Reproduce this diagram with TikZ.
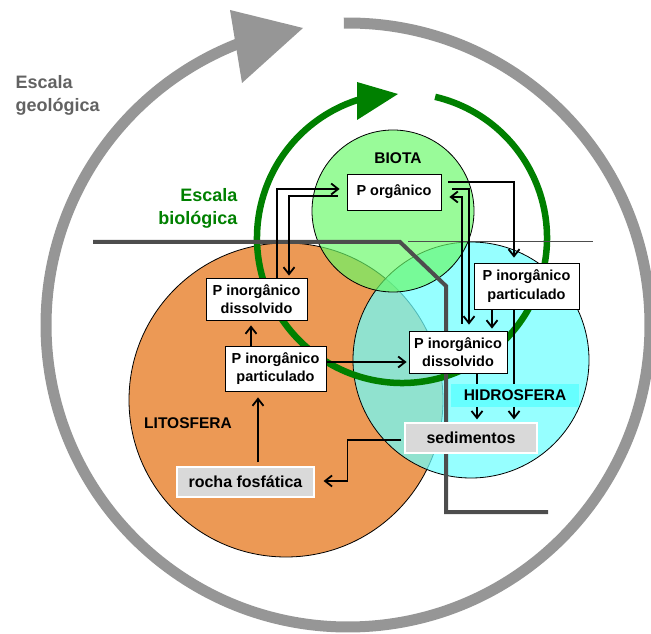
\documentclass[tikz,border=0pt]{standalone}
\usepackage{fontspec}
\setmainfont{Liberation Sans}
\usepackage{xcolor}
\usetikzlibrary{arrows.meta,calc,positioning}
\definecolor{litocol}{RGB}{236,153,85}
\definecolor{hidrocol}{RGB}{109,255,255}
\definecolor{biocol}{RGB}{104,249,104}
\definecolor{escgreen}{RGB}{0,128,0}
\definecolor{escgrey}{RGB}{150,150,150}
\definecolor{txtgrey}{RGB}{98,98,98}
\definecolor{linegrey}{RGB}{77,77,77}
\definecolor{sedgrey}{RGB}{217,217,217}
\definecolor{hidrolbl}{RGB}{102,255,255}

\begin{document}
\begin{tikzpicture}[x=1pt,y=1pt,
    box/.style={draw=black, line width=0.8pt, fill=white, inner sep=0pt, align=center, font=\fontsize{14.5}{18.5}\selectfont\bfseries},
    greybox/.style={draw=white, line width=1.2pt, fill=sedgrey, inner sep=0pt, font=\fontsize{16}{19}\selectfont\bfseries},
    sphere/.style={font=\fontsize{15.5}{18}\selectfont\bfseries},
    flow/.style={line width=1.8pt, -{Straight Barb[length=7pt,width=11pt]}}]
    \useasboundingbox (0,0) rectangle (651,633);

    \draw[escgrey, line width=11pt] (348,308) ++(90.8:302) arc[start angle=90.8, end angle=-249, radius=302];
    \fill[escgrey] (303,605) -- (230,623) -- (242,550) -- cycle;

    \draw[fill=litocol, line width=0.8pt] (286,233) circle (157);
    \draw[fill=hidrocol, fill opacity=0.72, line width=0.8pt] (471,273) circle (118);
    \draw[fill=biocol, fill opacity=0.68, line width=0.8pt] (393,422) circle (81);

    \draw[escgreen, line width=6.5pt] (402,395) ++(76.8:145) arc[start angle=76.8, end angle=-253, radius=145];
    \fill[escgreen] (398,539) -- (357,551) -- (357,513) -- cycle;

    \draw[linegrey, line width=4pt] (93,391) -- (400,391) -- (446,347) -- (446,121) -- (548,121);
    \draw[linegrey, line width=1pt] (408,391) -- (593,391);

    \node[anchor=west, align=left, text=txtgrey, font=\fontsize{18}{23}\selectfont\bfseries] (geo) at (12,538) {Escala\\geológica};
    \node[anchor=east, align=right, text=escgreen, font=\fontsize{18}{23}\selectfont\bfseries] (bio) at (241,425) {Escala\\biológica};

    \node[sphere] (lito) at (188,210) {LITOSFERA};
    \node[sphere] (biota) at (398,475) {BIOTA};

    \node[box, minimum width=94, minimum height=36] (porg) at (394,441) {P orgânico};
    \node[box, minimum width=101, minimum height=42] (dissL) at (256.5,334) {P inorgânico\\dissolvido};
    \node[box, minimum width=101, minimum height=45] (partL) at (275.5,264.5) {P inorgânico\\particulado};
    \node[box, minimum width=105, minimum height=46] (partR) at (526.5,347) {P inorgânico\\particulado};
    \node[box, minimum width=98, minimum height=42] (dissR) at (458,281) {P inorgânico\\dissolvido};
    \node[greybox, minimum width=132, minimum height=30] (sed) at (471,195) {sedimentos};
    \node[greybox, minimum width=137, minimum height=30] (rocha) at (245.5,151) {rocha fosfática};

    \draw[flow] ([xshift=20.5pt]dissL.north) |- ([xshift=-7pt,yshift=3pt]porg.west);
    \draw[flow] ([xshift=-9pt,yshift=-4pt]porg.west) -| ([xshift=32.5pt,yshift=2pt]dissL.north);
    \draw[flow] ([xshift=7pt,yshift=10pt]porg.east) -| ([xshift=-12.5pt,yshift=5pt]partR.north);
    \draw[flow] ([xshift=11pt,yshift=3pt]porg.east) -| ([xshift=11pt,yshift=6pt]dissR.north);
    \draw[flow] ([xshift=4pt,yshift=7pt]dissR.north) |- ([xshift=8pt,yshift=-5pt]porg.east);
    \draw[flow] ([xshift=-34.5pt]partR.south) -- ([xshift=34pt,yshift=2pt]dissR.north);
    \draw[flow] ([xshift=-12.5pt]partR.south) -- ([xshift=43pt,yshift=3pt]sed.north);
    \draw[flow] ([xshift=19pt]dissR.south) -- ([xshift=6pt,yshift=3pt]sed.north);
    \draw[flow] ([xshift=-24.5pt]partL.north) -- ([xshift=-5.5pt,yshift=-5pt]dissL.south);
    \draw[flow] ([yshift=6.5pt]partL.east) -- ([xshift=-2pt,yshift=-10pt]dissR.west);
    \draw[flow] ([xshift=12.5pt,yshift=4pt]rocha.north) -- ([xshift=-17.5pt,yshift=-6pt]partL.south);
    \draw[flow] ([xshift=-3pt,yshift=-2pt]sed.west) -- ++(-54,0) |- ([xshift=9pt,yshift=1pt]rocha.east);

    \node[sphere, fill=hidrolbl, minimum width=128, minimum height=23, inner sep=0pt] (hidro) at (515,237.5) {HIDROSFERA};
\end{tikzpicture}
\end{document}
